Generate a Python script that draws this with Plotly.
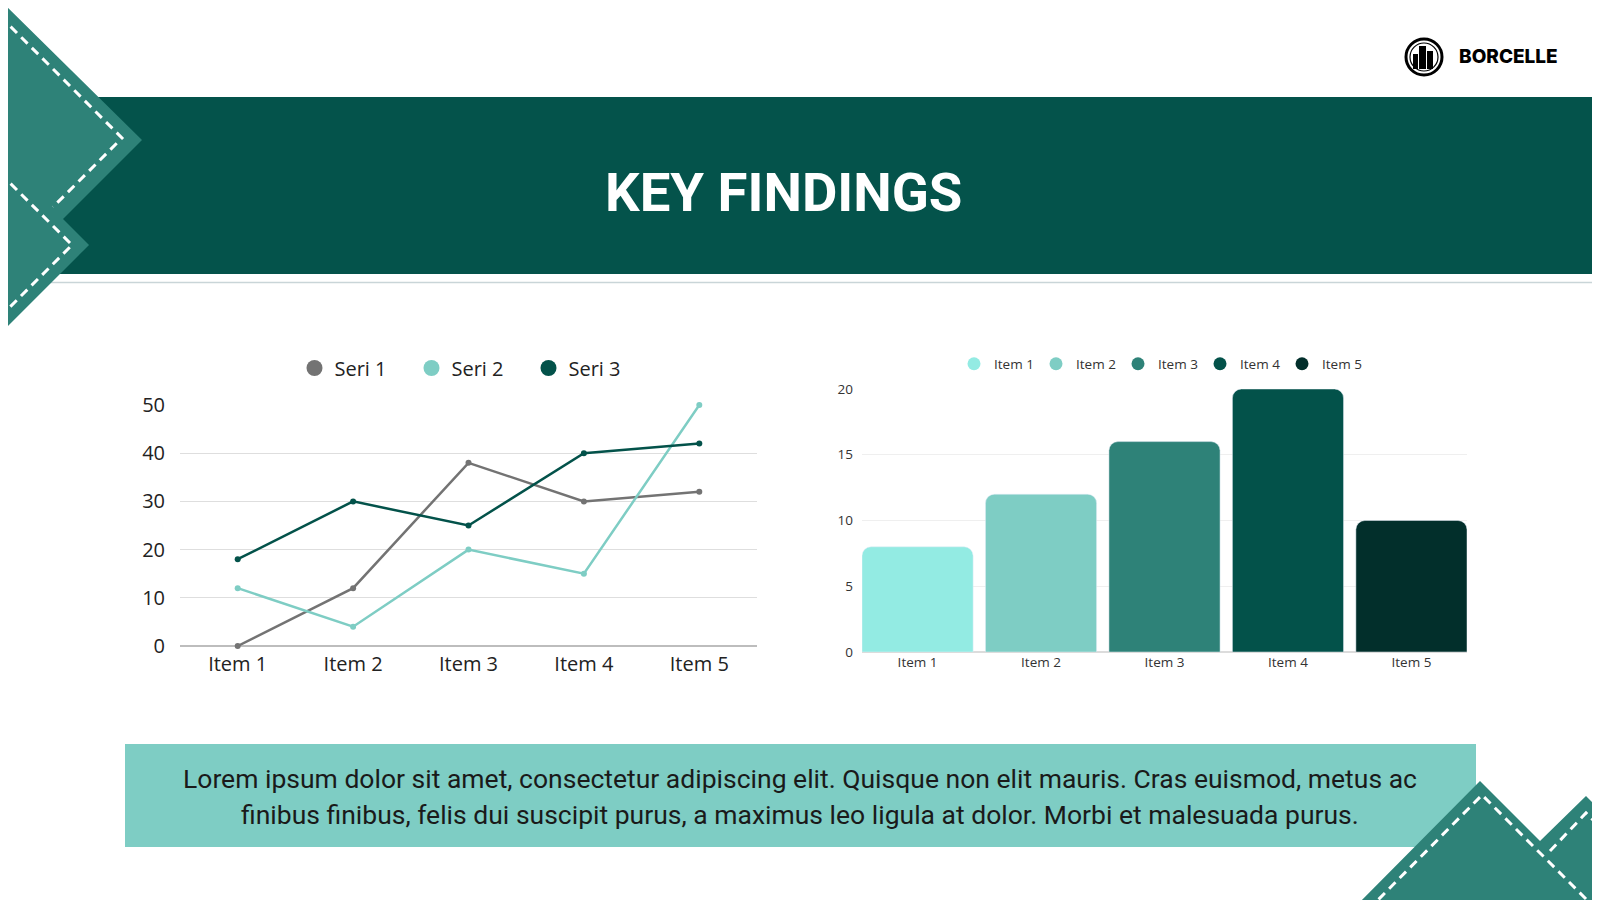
import plotly.graph_objects as go

W, H = 1600, 900
OFF = 8  # the page body margin pushes the figure 8px right/down; positions below are screen pixels

# line chart data
line_items = ['Item 1', 'Item 2', 'Item 3', 'Item 4', 'Item 5']
seri_1 = [0, 12, 38, 30, 32]
seri_2 = [12, 4, 20, 15, 50]
seri_3 = [18, 30, 25, 40, 42]
seri_names = ['Seri 1', 'Seri 2', 'Seri 3']
seri_colors = ['#737373', '#7ecdc4', '#03524a']

# bar chart data
bar_items = ['Item 1', 'Item 2', 'Item 3', 'Item 4', 'Item 5']
bar_values = [8, 12, 16, 20, 10]
bar_colors = ['#93ebe3', '#7ecdc4', '#2e8278', '#03524a', '#022f2b']

title_text = 'KEY FINDINGS'
body_lines = [
    'Lorem ipsum dolor sit amet, consectetur adipiscing elit. Quisque non elit mauris. Cras euismod, metus ac',
    'finibus finibus, felis dui suscipit purus, a maximus leo ligula at dolor. Morbi et malesuada purus.',
]

DARK = '#04534b'
TEAL = '#2e8278'
LIGHT = '#7ecdc4'


def px(x):
    return (x - OFF) / W


def py(y):
    return 1 - (y - OFF) / H


def path(pts, close=True):
    s = 'M ' + ' L '.join('%.5f,%.5f' % (px(x), py(y)) for x, y in pts)
    return s + (' Z' if close else '')


fig = go.Figure()

# ---- line chart
for name, vals, col in zip(seri_names, [seri_1, seri_2, seri_3], seri_colors):
    fig.add_trace(go.Scatter(x=line_items, y=vals, mode='lines+markers', name=name,
                             line=dict(color=col, width=2.5), marker=dict(size=6, color=col),
                             showlegend=False, cliponaxis=False, xaxis='x', yaxis='y'))
    # legend entry as a big dot
    fig.add_trace(go.Scatter(x=[None], y=[None], mode='markers', name=name,
                             marker=dict(size=20, color=col), legend='legend',
                             xaxis='x', yaxis='y'))

# ---- bar chart
fig.add_trace(go.Bar(x=bar_items, y=bar_values, marker=dict(color=bar_colors, cornerradius=9),
                     showlegend=False, xaxis='x2', yaxis='y2'))
for name, col in zip(bar_items, bar_colors):
    fig.add_trace(go.Scatter(x=[None], y=[None], mode='markers', name=name,
                             marker=dict(size=13, color=col), legend='legend2',
                             xaxis='x2', yaxis='y2'))

shapes = []
# header band + thin rule
shapes.append(dict(type='rect', xref='paper', yref='paper', x0=px(0), x1=px(1620), y0=py(274), y1=py(97),
                   fillcolor=DARK, line_width=0, layer='below'))
shapes.append(dict(type='line', xref='paper', yref='paper', x0=px(40), x1=px(1620), y0=py(282.5), y1=py(282.5),
                   line=dict(color='#c9d5d8', width=1.5), layer='below'))
# left decoration
shapes.append(dict(type='path', xref='paper', yref='paper',
                   path=path([(0, 0), (142, 140), (63, 219), (89, 245), (0, 334)]),
                   fillcolor=TEAL, line_width=0))
shapes.append(dict(type='path', xref='paper', yref='paper',
                   path=path([(0, 16), (122, 138), (53, 207)], close=False),
                   line=dict(color='white', width=3, dash='9px,6px')))
shapes.append(dict(type='path', xref='paper', yref='paper',
                   path=path([(0, 173), (72, 245), (0, 317)], close=False),
                   line=dict(color='white', width=3, dash='9px,6px')))
# bottom right decoration
shapes.append(dict(type='path', xref='paper', yref='paper',
                   path=path([(1352, 910), (1480, 781), (1540, 841), (1586, 796), (1620, 830), (1620, 910)]),
                   fillcolor=TEAL, line_width=0))
shapes.append(dict(type='path', xref='paper', yref='paper',
                   path=path([(1368, 910), (1482, 795), (1597, 910)], close=False),
                   line=dict(color='white', width=3, dash='9px,6px')))
shapes.append(dict(type='path', xref='paper', yref='paper',
                   path=path([(1550, 851), (1586, 813), (1620, 847)], close=False),
                   line=dict(color='white', width=3, dash='9px,6px')))
# text box
shapes.append(dict(type='rect', xref='paper', yref='paper', x0=px(125), x1=px(1476), y0=py(847), y1=py(744),
                   fillcolor=LIGHT, line_width=0, layer='below'))
# logo
shapes.append(dict(type='circle', xref='paper', yref='paper', x0=px(1406), x1=px(1442), y0=py(75), y1=py(39),
                   line=dict(color='black', width=3), fillcolor='white'))
shapes.append(dict(type='circle', xref='paper', yref='paper', x0=px(1410), x1=px(1438), y0=py(71), y1=py(43),
                   line=dict(color='black', width=1.2), fillcolor='white'))
for x0, x1, y0 in [(1413, 1418, 54), (1419, 1426, 46), (1427, 1433, 51)]:
    shapes.append(dict(type='rect', xref='paper', yref='paper', x0=px(x0), x1=px(x1), y0=py(69), y1=py(y0),
                       line_width=0, fillcolor='black'))

annotations = [
    dict(text='<b>' + title_text + '</b>', x=px(783.5), y=py(192), xref='paper', yref='paper',
         showarrow=False, xanchor='center', yanchor='middle',
         font=dict(family='Roboto', size=54.5, color='white')),
    dict(text='BORCELLE', x=px(1457), y=py(57), xref='paper', yref='paper',
         showarrow=False, xanchor='left', yanchor='middle',
         font=dict(family='Inter', size=19, color='black', weight=800)),
]
for i, line in enumerate(body_lines):
    annotations.append(dict(text=line, x=px(800), y=py(778 + 36.5 * i), xref='paper', yref='paper',
                            showarrow=False, xanchor='center', yanchor='middle',
                            font=dict(family='Roboto', size=26.5, color='#1a1a1a')))

fig.update_layout(
    width=W, height=H,
    margin=dict(l=0, r=0, t=0, b=0, autoexpand=False),
    paper_bgcolor='white', plot_bgcolor='white',
    font=dict(family='Open Sans', color='#333'),
    bargap=0.1,
    shapes=shapes,
    annotations=annotations,
    xaxis=dict(domain=[px(180), px(757)], anchor='y', type='category', range=[-0.5, 4.5], automargin=False,
               showgrid=False, tickfont=dict(size=20, color='#222'), ticks='', ticklabelstandoff=4),
    yaxis=dict(domain=[py(646), py(405)], anchor='x', range=[0, 50], dtick=10, automargin=False,
               gridcolor='#dedede', gridwidth=1, zeroline=True, zerolinecolor='#bdbdbd', zerolinewidth=1.5,
               tickfont=dict(size=20, color='#222'), ticklabelstandoff=14),
    xaxis2=dict(domain=[px(862), px(1467)], anchor='y2', type='category', range=[-0.45, 4.45], automargin=False,
                showgrid=False, tickfont=dict(size=13.5, color='#333'), ticks=''),
    yaxis2=dict(domain=[py(652), py(389)], anchor='x2', range=[0, 20], dtick=5, automargin=False,
                gridcolor='#efefef', zeroline=True, zerolinecolor='#dcdcdc',
                tickfont=dict(size=13.5, color='#333'), ticklabelstandoff=8),
    legend=dict(orientation='h', x=px(470), xanchor='center', y=py(368), yanchor='middle',
                font=dict(size=20, color='#222'), bgcolor='rgba(0,0,0,0)',
                entrywidth=72),
    legend2=dict(orientation='h', x=px(1159), xanchor='center', y=py(364), yanchor='middle',
                 font=dict(size=13.5, color='#333'), bgcolor='rgba(0,0,0,0)',
                 entrywidth=37),
)

fig.write_html('out.html')
